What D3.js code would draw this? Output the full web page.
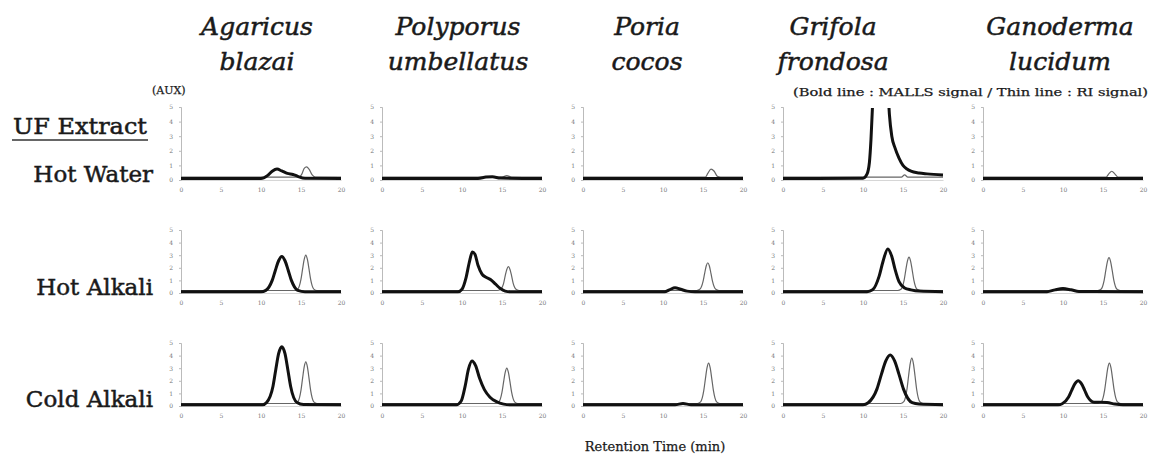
<!DOCTYPE html>
<html><head><meta charset="utf-8">
<script src="https://cdn.jsdelivr.net/npm/d3@7"></script>
<style>body{margin:0;background:#fff}svg{display:block}</style>
</head><body>
<svg id="c" width="1150" height="456"></svg>
<script>
// ---------- data ----------
const speciesLine1 = ["Agaricus", "Polyporus", "Poria", "Grifola", "Ganoderma"];
const speciesLine2 = ["blazai", "umbellatus", "cocos", "frondosa", "lucidum"];
const extracts = ["Hot Water", "Hot Alkali", "Cold Alkali"];
const xTicks = [0, 5, 10, 15, 20];
const yTicks = [0, 1, 2, 3, 4, 5];

// MALLS (bold) and RI (thin) signals: [retention time (min), signal (AUX)]
const mallsHotWater = [
  [[0,0.1],[10,0.1],[10.8,0.3],[11.4,0.6],[12,0.75],[12.6,0.62],[13.3,0.45],[14,0.38],[14.6,0.25],[15.5,0.12],[20,0.1]],
  [[0,0.1],[12,0.1],[13,0.2],[13.8,0.22],[14.8,0.13],[20,0.1]],
  [[0,0.1],[20,0.1]],
  [[0,0.1],[10,0.12],[10.5,0.4],[10.8,1.2],[11.0,2.8],[11.2,5.2],[11.5,8],[12.3,9.5],[13.0,7.5],[13.3,4.5],[13.6,3.0],[14.0,2.2],[14.5,1.5],[15,1.0],[15.5,0.75],[16,0.6],[17,0.48],[18,0.42],[20,0.34]],
  [[0,0.1],[20,0.1]]
];
const riHotWater = [
  [[0,0.2],[14.8,0.2],[15.1,0.4],[15.4,0.8],[15.7,0.9],[16.0,0.75],[16.4,0.35],[16.8,0.2],[20,0.2]],
  [[0,0.2],[15,0.2],[15.6,0.3],[16.2,0.2],[20,0.2]],
  [[0,0.2],[15.3,0.2],[15.6,0.45],[16.0,0.75],[16.4,0.6],[16.8,0.25],[17.2,0.2],[20,0.2]],
  [[0,0.2],[14.8,0.2],[15.2,0.35],[15.6,0.2],[20,0.2]],
  [[0,0.2],[15.4,0.2],[15.7,0.4],[16.1,0.6],[16.5,0.4],[16.9,0.2],[20,0.2]]
];
const mallsHotAlkali = [
  [[0,0.1],[10,0.1],[10.6,0.21],[11.4,1.0],[11.8,1.81],[12.2,2.56],[12.6,2.9],[13.0,2.56],[13.4,1.81],[13.8,1.0],[14.6,0.21],[15.5,0.1],[20,0.1]],
  [[0,0.1],[9.5,0.1],[10.0,0.3],[10.5,1.2],[10.9,2.4],[11.3,3.25],[11.6,3.1],[12.0,2.2],[12.5,1.5],[13.0,1.25],[13.6,1.05],[14.2,0.7],[14.8,0.35],[15.4,0.15],[16,0.1],[20,0.1]],
  [[0,0.1],[10.2,0.1],[10.8,0.25],[11.5,0.42],[12.2,0.3],[13,0.15],[14,0.1],[20,0.1]],
  [[0,0.1],[10.5,0.1],[11.2,0.25],[12.0,1.3],[12.5,2.5],[13.1,3.5],[13.6,2.9],[14.0,1.9],[14.5,0.9],[15.2,0.4],[16,0.25],[17,0.15],[20,0.1]],
  [[0,0.1],[8,0.1],[9,0.25],[10,0.35],[11,0.25],[12,0.12],[20,0.1]]
];
const riHotAlkali = [
  [[0,0.2],[14.2,0.2],[14.6,0.31],[15.0,1.1],[15.2,1.91],[15.4,2.66],[15.6,3.0],[15.8,2.66],[16.0,1.91],[16.2,1.1],[16.6,0.31],[17.0,0.2],[20,0.2]],
  [[0,0.2],[14.4,0.2],[14.8,0.28],[15.2,0.77],[15.4,1.36],[15.6,1.87],[15.8,2.1],[16.0,1.87],[16.2,1.36],[16.4,0.77],[16.8,0.28],[17.2,0.2],[20,0.2]],
  [[0,0.2],[14.2,0.2],[14.6,0.29],[15.0,0.9],[15.2,1.54],[15.4,2.14],[15.6,2.4],[15.8,2.14],[16.0,1.54],[16.2,0.9],[16.6,0.29],[17.0,0.2],[20,0.2]],
  [[0,0.2],[14.35,0.2],[14.75,0.3],[15.15,1.05],[15.35,1.82],[15.55,2.53],[15.75,2.85],[15.95,2.53],[16.15,1.82],[16.35,1.05],[16.75,0.3],[17.15,0.2],[20,0.2]],
  [[0,0.2],[14.35,0.2],[14.75,0.3],[15.15,1.03],[15.35,1.79],[15.55,2.49],[15.75,2.8],[15.95,2.49],[16.15,1.79],[16.35,1.03],[16.75,0.3],[17.15,0.2],[20,0.2]]
];
const mallsColdAlkali = [
  [[0,0.1],[10.2,0.1],[10.7,0.28],[11.5,1.57],[11.85,2.9],[12.2,4.15],[12.6,4.7],[13.0,4.15],[13.35,2.9],[13.7,1.57],[14.5,0.28],[15.3,0.12],[20,0.1]],
  [[0,0.1],[9.3,0.1],[9.9,0.4],[10.4,1.6],[10.8,2.9],[11.25,3.57],[11.7,3.2],[12.2,2.2],[12.8,1.3],[13.5,0.7],[14.3,0.35],[15.2,0.15],[16,0.1],[20,0.1]],
  [[0,0.1],[11.5,0.1],[12.5,0.2],[13.5,0.1],[20,0.1]],
  [[0,0.1],[10.0,0.1],[10.65,0.26],[11.75,1.36],[12.3,2.51],[12.85,3.58],[13.4,4.05],[13.95,3.58],[14.5,2.51],[15.05,1.36],[16.15,0.26],[17,0.15],[20,0.1]],
  [[0,0.1],[9.4,0.1],[9.9,0.18],[10.7,0.71],[11.1,1.26],[11.5,1.77],[11.9,2.0],[12.3,1.77],[12.7,1.26],[13.1,0.71],[13.9,0.3],[14.5,0.3],[15.5,0.28],[16.5,0.15],[17.5,0.1],[20,0.1]]
];
const riColdAlkali = [
  [[0,0.2],[14.2,0.2],[14.6,0.33],[15.0,1.26],[15.2,2.21],[15.4,3.1],[15.6,3.5],[15.8,3.1],[16.0,2.21],[16.2,1.26],[16.6,0.33],[17.0,0.2],[20,0.2]],
  [[0,0.2],[14.2,0.2],[14.6,0.31],[15.0,1.1],[15.2,1.91],[15.4,2.66],[15.6,3.0],[15.8,2.66],[16.0,1.91],[16.2,1.1],[16.6,0.31],[17.0,0.2],[20,0.2]],
  [[0,0.2],[14.3,0.2],[14.7,0.33],[15.1,1.24],[15.3,2.15],[15.5,3.02],[15.7,3.4],[15.9,3.02],[16.1,2.15],[16.3,1.24],[16.7,0.33],[17.1,0.2],[20,0.2]],
  [[0,0.2],[14.7,0.2],[15.1,0.34],[15.5,1.35],[15.7,2.4],[15.9,3.37],[16.1,3.8],[16.3,3.37],[16.5,2.4],[16.7,1.35],[17.1,0.34],[17.5,0.2],[20,0.2]],
  [[0,0.2],[14.4,0.2],[14.8,0.33],[15.2,1.24],[15.4,2.15],[15.6,3.02],[15.8,3.4],[16.0,3.02],[16.2,2.15],[16.4,1.24],[16.8,0.33],[17.2,0.2],[20,0.2]]
];

const mallsRows = [mallsHotWater, mallsHotAlkali, mallsColdAlkali];
const riRows = [riHotWater, riHotAlkali, riColdAlkali];

// ---------- layout ----------
const svg = d3.select("#c");
const serif = "'DejaVu Serif', 'Liberation Serif', serif";
const colLeft = [181, 382, 583, 783, 983];
const panelW = 160;
const rowBottom = [180, 293, 406];
const rowTop = [107, 230, 343];
const titleX = [257, 458, 647, 833, 1060];
const labelBaseline = [182, 295, 407];

// column titles
speciesLine1.forEach((t, i) => {
  [[t, 35], [speciesLine2[i], 70]].forEach(([s, yy]) => {
    svg.append("text").attr("x", titleX[i]).attr("y", yy).attr("text-anchor", "middle")
      .attr("font-family", serif).attr("font-style", "italic").attr("font-size", 25)
      .attr("fill", "#1a1a1a").attr("stroke", "#1a1a1a").attr("stroke-width", 0.5).text(s);
  });
});

svg.append("text").attr("x", 152).attr("y", 94).attr("font-family", serif).attr("font-size", 11)
  .attr("fill", "#1a1a1a").attr("stroke", "#1a1a1a").attr("stroke-width", 0.25).text("(AUX)");
svg.append("text").attr("x", 793).attr("y", 96).attr("font-family", serif).attr("font-size", 11)
  .attr("fill", "#1a1a1a").attr("stroke", "#1a1a1a").attr("stroke-width", 0.25)
  .attr("textLength", 355).attr("lengthAdjust", "spacingAndGlyphs")
  .text("(Bold line : MALLS signal / Thin line : RI signal)");

svg.append("text").attr("x", 13).attr("y", 134).attr("font-family", serif).attr("font-size", 23)
  .attr("fill", "#1a1a1a").attr("stroke", "#1a1a1a").attr("stroke-width", 0.5)
  .attr("textLength", 134).attr("lengthAdjust", "spacingAndGlyphs").text("UF Extract");
svg.append("line").attr("x1", 12).attr("x2", 148).attr("y1", 140).attr("y2", 140)
  .attr("stroke", "#333").attr("stroke-width", 1.5);

extracts.forEach((t, r) => {
  svg.append("text").attr("x", 153).attr("y", labelBaseline[r]).attr("text-anchor", "end")
    .attr("font-family", serif).attr("font-size", 23)
    .attr("fill", "#1a1a1a").attr("stroke", "#1a1a1a").attr("stroke-width", 0.5).text(t);
});

svg.append("text").attr("x", 655).attr("y", 451).attr("text-anchor", "middle")
  .attr("font-family", serif).attr("font-size", 13).attr("fill", "#1a1a1a")
  .attr("stroke", "#1a1a1a").attr("stroke-width", 0.25).text("Retention Time (min)");

// ---------- panels ----------
const defs = svg.append("defs");
extracts.forEach((ex, r) => {
  speciesLine1.forEach((sp, c) => {
    const x = d3.scaleLinear().domain([0, 20]).range([colLeft[c], colLeft[c] + panelW]);
    const y = d3.scaleLinear().domain([0, 5]).range([rowBottom[r], rowTop[r]]);
    const id = `clip-${r}-${c}`;
    defs.append("clipPath").attr("id", id).append("rect")
      .attr("x", x(0) - 2).attr("y", y(5) + 1).attr("width", panelW + 4).attr("height", rowBottom[r] - rowTop[r] + 6);
    const g = svg.append("g");

    // y axis
    const ya = g.append("g").attr("transform", `translate(${x(0)},0)`)
      .call(d3.axisLeft(y).tickValues(yTicks).tickFormat(d3.format("d")).tickSize(2).tickPadding(6));
    ya.select(".domain").attr("stroke", "#aaa").attr("stroke-width", 0.8);
    ya.selectAll(".tick line").attr("stroke", "#bbb");
    ya.selectAll("text").attr("font-size", 6).attr("fill", "#777").attr("font-family", serif);

    // x axis
    const xa = g.append("g").attr("transform", `translate(0,${y(0)})`)
      .call(d3.axisBottom(x).tickValues(xTicks).tickFormat(d3.format("d")).tickSize(0).tickPadding(8));
    xa.select(".domain").attr("stroke", "#bbb").attr("stroke-width", 0.6);
    xa.selectAll("text").attr("font-size", 6).attr("fill", "#777").attr("font-family", serif);

    const line = d3.line().x(d => x(d[0])).y(d => y(d[1])).curve(d3.curveMonotoneX);
    const pg = g.append("g").attr("clip-path", `url(#${id})`);
    pg.append("path").datum(riRows[r][c]).attr("d", line).attr("fill", "none")
      .attr("stroke", "#666").attr("stroke-width", 1.2);
    pg.append("path").datum(mallsRows[r][c]).attr("d", line).attr("fill", "none")
      .attr("stroke", "#111").attr("stroke-width", 3).attr("stroke-linejoin", "round");
  });
});
</script>
</body></html>
